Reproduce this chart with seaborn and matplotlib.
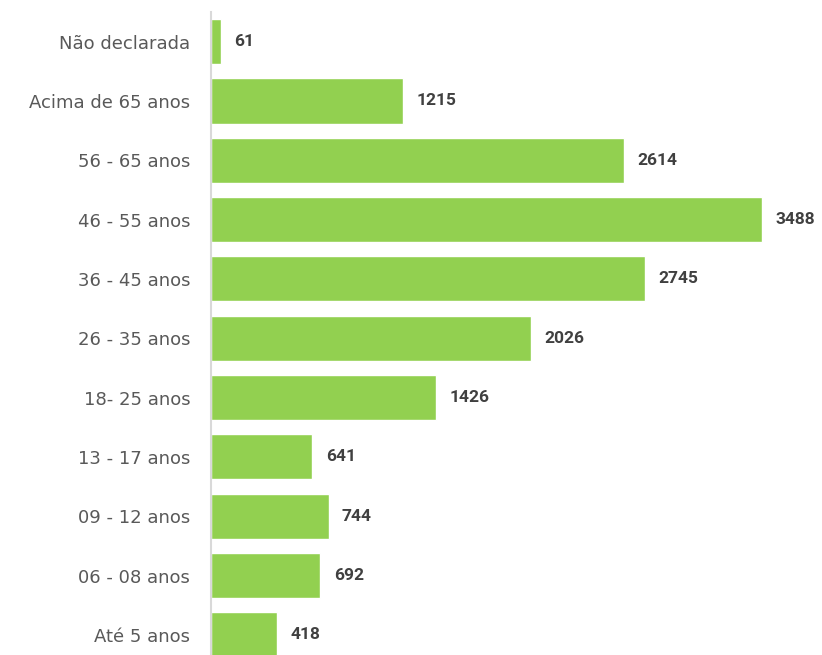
import matplotlib.pyplot as plt
import pandas as pd
import seaborn as sns

categories = [
    "Não declarada", "Acima de 65 anos", "56 - 65 anos", "46 - 55 anos",
    "36 - 45 anos", "26 - 35 anos", "18- 25 anos", "13 - 17 anos",
    "09 - 12 anos", "06 - 08 anos", "Até 5 anos",
]
values = [61, 1215, 2614, 3488, 2745, 2026, 1426, 641, 744, 692, 418]

df = pd.DataFrame({"faixa": categories, "total": values})

sns.set_theme(style="white")
plt.rcParams["font.family"] = ["DejaVu Sans"]

fig = plt.figure(figsize=(8.22, 6.55), dpi=100)
ax = fig.add_axes([211 / 822, 0, 1 - 211 / 822, 643 / 655])

sns.barplot(data=df, x="total", y="faixa", order=categories, color="#92D050",
            saturation=1, width=0.76, ax=ax)

# value labels, bold, right of each bar
for i, v in enumerate(values):
    ax.text(v + 85, i, str(v), va="center", ha="left", fontsize=12.5,
            fontweight="bold", color="#404040", family=["Roboto", "DejaVu Sans"])

ax.set_xlim(0, 3867)
ax.set_ylim(10.34, -0.5)
ax.set_xlabel("")
ax.set_ylabel("")
ax.set_xticks([])
for s in ["top", "right", "bottom"]:
    ax.spines[s].set_visible(False)
ax.spines["left"].set_color("#D9D9D9")
ax.spines["left"].set_linewidth(1.5)
ax.tick_params(axis="y", length=0, pad=15, labelsize=13, labelcolor="#595959")

fig.savefig("out.png", dpi=100)
